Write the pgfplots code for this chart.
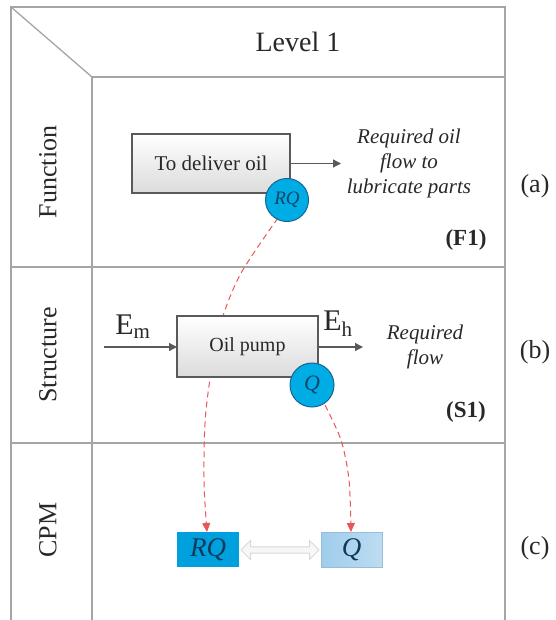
\documentclass[border=0pt]{standalone}
\usepackage{pgfplots}
\pgfplotsset{compat=1.18}
\usepackage{fontspec}
\setmainfont{Liberation Serif}
\usetikzlibrary{arrows.meta,shapes.arrows}
\definecolor{gridc}{RGB}{165,165,165}
\definecolor{boxline}{RGB}{90,90,90}
\definecolor{circ}{RGB}{0,172,228}
\definecolor{circline}{RGB}{20,100,150}
\definecolor{rqfill}{RGB}{0,160,222}
\definecolor{qfill}{RGB}{160,205,236}
\definecolor{dashred}{RGB}{232,85,90}
\definecolor{txt}{RGB}{40,40,40}
\begin{document}
\begin{tikzpicture}
\begin{axis}[width=555pt,height=620pt,scale only axis,anchor=south west,at={(0,0)},
  xmin=0,xmax=555,ymin=0,ymax=620,y dir=reverse,hide axis,clip=false]
% frame lines
\addplot[gridc,line width=1.3pt] coordinates {(11,620) (11,7) (505,7) (505,620)};
\addplot[gridc,line width=1.3pt] coordinates {(11,7) (92,77)};
\addplot[gridc,line width=1.3pt] coordinates {(92,620) (92,77) (505,77)};
\addplot[gridc,line width=1.3pt] coordinates {(11,267) (505,267)};
\addplot[gridc,line width=1.3pt] coordinates {(11,443) (505,443)};
% headings
\node[txt,font=\fontsize{28}{30}\selectfont] at (axis cs:298,42) {Level 1};
\node[txt,rotate=90,font=\fontsize{26}{28}\selectfont] at (axis cs:48,172) {Function};
\node[txt,rotate=90,font=\fontsize{26}{28}\selectfont] at (axis cs:48,355) {Structure};
\node[txt,rotate=90,font=\fontsize{26}{28}\selectfont] at (axis cs:48,530) {CPM};
\node[txt,font=\fontsize{26}{28}\selectfont] at (axis cs:535,186) {(a)};
\node[txt,font=\fontsize{26}{28}\selectfont] at (axis cs:535,352) {(b)};
\node[txt,font=\fontsize{26}{28}\selectfont] at (axis cs:535,548) {(c)};
% dashed curves
\addplot[dashred,line width=1pt,dash pattern=on 6pt off 4pt,smooth,-{Triangle[length=9pt,width=8pt]}] coordinates {(278,218) (240,275) (219,330) (206,410) (204,480) (207,532)};
\addplot[dashred,line width=1pt,dash pattern=on 6pt off 4pt,smooth,-{Triangle[length=9pt,width=8pt]}] coordinates {(325,405) (341,440) (349,480) (351,532)};
% function box
\node[draw=boxline,line width=1.2pt,top color=white,bottom color=gray!28,minimum width=158pt,minimum height=59pt,inner sep=0pt,
  font=\fontsize{21}{23}\selectfont,text=txt] at (axis cs:211,163.5) {To deliver oil};
\draw[boxline,line width=1.3pt,-{Triangle[length=8pt,width=8pt]}] (axis cs:290,163.5) -- (axis cs:341,163.5);
\node[txt,font=\itshape\fontsize{21}{25}\selectfont,align=center] at (axis cs:409,163) {Required oil\\flow to\\lubricate parts};
\node[draw=circline,line width=1pt,fill=circ,circle,minimum size=43pt,inner sep=0pt,text=circline!70!black,
  font=\itshape\fontsize{19}{20}\selectfont] at (axis cs:287,200) {RQ};
\node[txt,font=\bfseries\fontsize{23}{25}\selectfont] at (axis cs:466,240) {(F1)};
% structure box
\node[draw=boxline,line width=1.2pt,top color=white,bottom color=gray!28,minimum width=141pt,minimum height=61pt,inner sep=0pt,
  font=\fontsize{20}{22}\selectfont,text=txt] at (axis cs:247.5,346.5) {Oil pump};
\draw[boxline,line width=1.3pt,-{Triangle[length=8pt,width=8pt]}] (axis cs:104,347) -- (axis cs:177,347);
\draw[boxline,line width=1.3pt,-{Triangle[length=8pt,width=8pt]}] (axis cs:318,347) -- (axis cs:363,347);
\node[txt,font=\fontsize{30}{32}\selectfont] at (axis cs:133,327) {E\textsubscript{m}};
\node[txt,font=\fontsize{30}{32}\selectfont] at (axis cs:338,324) {E\textsubscript{h}};
\node[txt,font=\itshape\fontsize{21}{25}\selectfont,align=center] at (axis cs:425,347) {Required\\flow};
\node[draw=circline,line width=1pt,fill=circ,circle,minimum size=44pt,inner sep=0pt,text=circline!70!black,
  font=\itshape\fontsize{22}{24}\selectfont] at (axis cs:312,385) {Q};
\node[txt,font=\bfseries\fontsize{23}{25}\selectfont] at (axis cs:466,412) {(S1)};
% CPM
\node[fill=rqfill,minimum width=62pt,minimum height=35pt,inner sep=0pt,text=circline!60!black,
  font=\itshape\fontsize{27}{29}\selectfont] at (axis cs:208,549.5) {RQ};
\node[left color=qfill,right color=qfill!70!white,draw=qfill!80!gray,line width=0.5pt,minimum width=61pt,minimum height=35pt,inner sep=0pt,text=circline!60!black,
  font=\itshape\fontsize{27}{29}\selectfont] at (axis cs:351.5,549.5) {Q};
\node[double arrow,draw=gray!30,fill=gray!6,line width=1pt,minimum height=78pt,minimum width=19pt,inner sep=1pt,
  double arrow head extend=3pt,double arrow head indent=0pt] at (axis cs:280,550) {};
\end{axis}
\pgfresetboundingbox
\useasboundingbox (0,0) rectangle (555pt,620pt);
\end{tikzpicture}
\end{document}
